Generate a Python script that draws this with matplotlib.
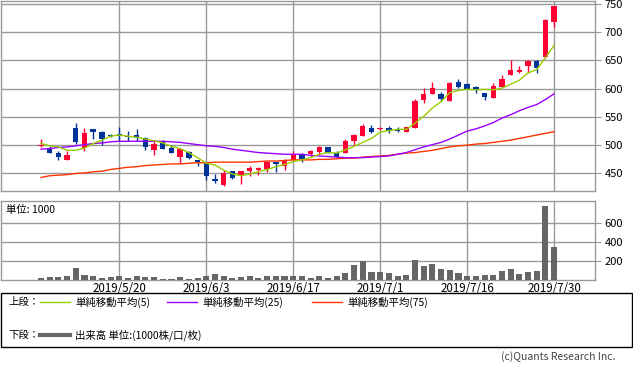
import matplotlib
matplotlib.use("Agg")
import matplotlib.pyplot as plt
from matplotlib.lines import Line2D
from matplotlib.patches import Rectangle

plt.rcParams['font.family'] = ['Noto Sans CJK JP', 'DejaVu Sans']

# trading days 2019/5/7 .. 2019/7/30 (60 sessions)
date_ticks = [9, 19, 29, 39, 49, 59]
date_labels = ['2019/5/20', '2019/6/3', '2019/6/17', '2019/7/1', '2019/7/16', '2019/7/30']

opens = [499, 495, 486, 473, 531, 495, 529, 524, 518, 519,
         517, 518, 512, 492, 505, 495, 480, 488, 474, 470,
         440, 429, 454, 447, 454, 456, 458, 470, 464, 474,
         485, 484, 488, 497, 486, 486, 508, 517, 531, 528,
         530, 529, 523, 531, 580, 590, 591, 579, 612, 609,
         603, 593, 584, 603, 625, 629, 641, 649, 656, 718]
highs = [511, 499, 489, 490, 540, 531, 529, 525, 519, 532,
         525, 528, 514, 509, 509, 500, 494, 489, 474, 471,
         449, 456, 455, 455, 464, 462, 472, 471, 475, 490,
         486, 491, 498, 497, 489, 511, 519, 538, 536, 532,
         534, 532, 533, 581, 601, 612, 595, 612, 618, 610,
         605, 593, 611, 625, 650, 641, 651, 650, 724, 747]
lows = [497, 487, 473, 473, 502, 490, 511, 501, 514, 508,
        508, 508, 492, 483, 493, 486, 469, 475, 464, 439,
        434, 428, 440, 431, 445, 448, 453, 453, 457, 473,
        470, 480, 482, 486, 478, 486, 500, 517, 522, 527,
        521, 523, 523, 531, 574, 590, 579, 578, 601, 599,
        593, 580, 584, 603, 625, 627, 628, 628, 655, 710]
closes = [501, 487, 480, 482, 506, 522, 523, 511, 516, 517,
          515, 512, 496, 503, 494, 487, 493, 478, 471, 446,
          437, 450, 442, 454, 460, 460, 471, 466, 474, 485,
          476, 490, 497, 487, 479, 507, 518, 534, 523, 531,
          526, 526, 533, 579, 591, 601, 581, 611, 603, 600,
          597, 586, 605, 618, 633, 633, 649, 636, 722, 747]

ma5 = [503, 499, 497, 491, 491, 495, 503, 509, 516, 518,
       516, 514, 511, 508, 504, 498, 494, 487, 478, 468,
       465, 456, 449, 446, 449, 453, 457, 462, 466, 471,
       474, 478, 484, 487, 486, 492, 498, 505, 512, 523,
       526, 528, 528, 539, 551, 566, 577, 593, 597, 599,
       598, 599, 598, 601, 608, 615, 628, 634, 655, 677]
ma25 = [493, 494, 496, 497, 499, 501, 503, 504, 506, 507,
        507, 507, 507, 507, 507, 506, 505, 503, 501, 499,
        498, 496, 493, 491, 489, 487, 486, 485, 484, 484,
        484, 482, 481, 480, 479, 478, 478, 478, 479, 480,
        481, 484, 487, 492, 497, 501, 505, 511, 518, 525,
        529, 534, 540, 548, 554, 561, 567, 572, 581, 591]
ma75 = [443, 446, 447, 448, 450, 451, 453, 454, 457, 459,
        461, 462, 464, 465, 466, 467, 467, 468, 469, 469,
        470, 470, 470, 470, 470, 471, 472, 472, 473, 474,
        474, 474, 475, 475, 476, 477, 477, 479, 480, 481,
        482, 484, 486, 487, 489, 491, 494, 497, 499, 500,
        502, 503, 505, 507, 509, 512, 515, 518, 521, 524]

volume = [25, 32, 32, 42, 127, 53, 42, 28, 32, 42,
          21, 42, 32, 32, 14, 14, 32, 14, 25, 42,
          63, 42, 25, 32, 42, 25, 42, 42, 42, 46,
          46, 25, 46, 25, 46, 81, 161, 197, 91, 91,
          81, 46, 56, 214, 151, 172, 119, 109, 81, 46,
          46, 56, 56, 98, 119, 67, 91, 98, 776, 344]

price_ticks = [450, 500, 550, 600, 650, 700, 750]
volume_ticks = [200, 400, 600]

UP = '#ff0033'
DOWN = '#003399'
GRID = '#999999'
W, H = 633, 369


def fx(x):
    return x / W


def fy(y):
    return 1 - y / H


def style_axes(ax):
    for s in ax.spines.values():
        s.set_color(GRID)
        s.set_linewidth(1)
    ax.grid(True, color=GRID, linewidth=1)
    ax.set_axisbelow(True)
    ax.yaxis.tick_right()
    ax.tick_params(axis='y', length=4, color=GRID, labelsize=8, pad=3)
    ax.tick_params(axis='x', length=0)
    ax.set_xticks(date_ticks)
    ax.set_xlim(-4.6, 63.7)


fig = plt.figure(figsize=(W / 100, H / 100), dpi=100)

ax = fig.add_axes([fx(1), fy(190.7), fx(594), 189.7 / H])
style_axes(ax)
ax.set_xticklabels([])
ax.set_yticks(price_ticks)
ax.set_ylim(419.5, 755.3)

xs = list(range(len(closes)))
for i in xs:
    o, h, l, c = opens[i], highs[i], lows[i], closes[i]
    col = UP if c >= o else DOWN
    ax.vlines(i, l, h, color=col, linewidth=1, zorder=3)
    body = max(abs(c - o), 1.5)
    ax.bar(i, body, bottom=min(o, c), width=0.62, color=col, linewidth=0, zorder=4)

ax.plot(xs, ma75, color='#ff3300', linewidth=1, zorder=5)
ax.plot(xs, ma25, color='#9900ff', linewidth=1, zorder=5)
ax.plot(xs, ma5, color='#99cc00', linewidth=1, zorder=5)

axv = fig.add_axes([fx(1), fy(280.3), fx(594), 79.3 / H])
style_axes(axv)
axv.set_xticklabels(date_labels, fontsize=8.3)
axv.tick_params(axis='x', pad=1.5)
axv.set_yticks(volume_ticks)
axv.set_ylim(0, 825)
axv.bar(xs, volume, width=0.7, color='#666666', linewidth=0, zorder=3)
axv.text(0.008, 0.89, '単位: 1000', transform=axv.transAxes, fontsize=7.5,
         va='center', ha='left')

# legend box
fig.add_artist(Rectangle((fx(1), fy(347)), fx(631), 54 / H, transform=fig.transFigure,
                         fill=False, edgecolor='black', linewidth=1))
row1, row2 = 302, 335
fig.text(fx(8), fy(row1), '上段：', fontsize=7.5, va='center')
fig.text(fx(8), fy(row2), '下段：', fontsize=7.5, va='center')
legend_items = [(40, 75, '#99cc00', '単純移動平均(5)'),
                (167, 202, '#9900ff', '単純移動平均(25)'),
                (312, 347, '#ff3300', '単純移動平均(75)')]
for x0, tx, col, label in legend_items:
    fig.add_artist(Line2D([fx(x0), fx(x0 + 30)], [fy(row1), fy(row1)],
                          transform=fig.transFigure, color=col, linewidth=1))
    fig.text(fx(tx), fy(row1), label, fontsize=7.5, va='center')
fig.add_artist(Line2D([fx(40), fx(70)], [fy(row2), fy(row2)],
                      transform=fig.transFigure, color='#666666', linewidth=3))
fig.text(fx(75), fy(row2), '出来高 単位:(1000株/口/枚)', fontsize=7.5, va='center')

fig.text(fx(615), fy(357), '(c)Quants Research Inc.', fontsize=7.5, va='center',
         ha='right', color='#444444')

fig.savefig('out.png', dpi=100)
